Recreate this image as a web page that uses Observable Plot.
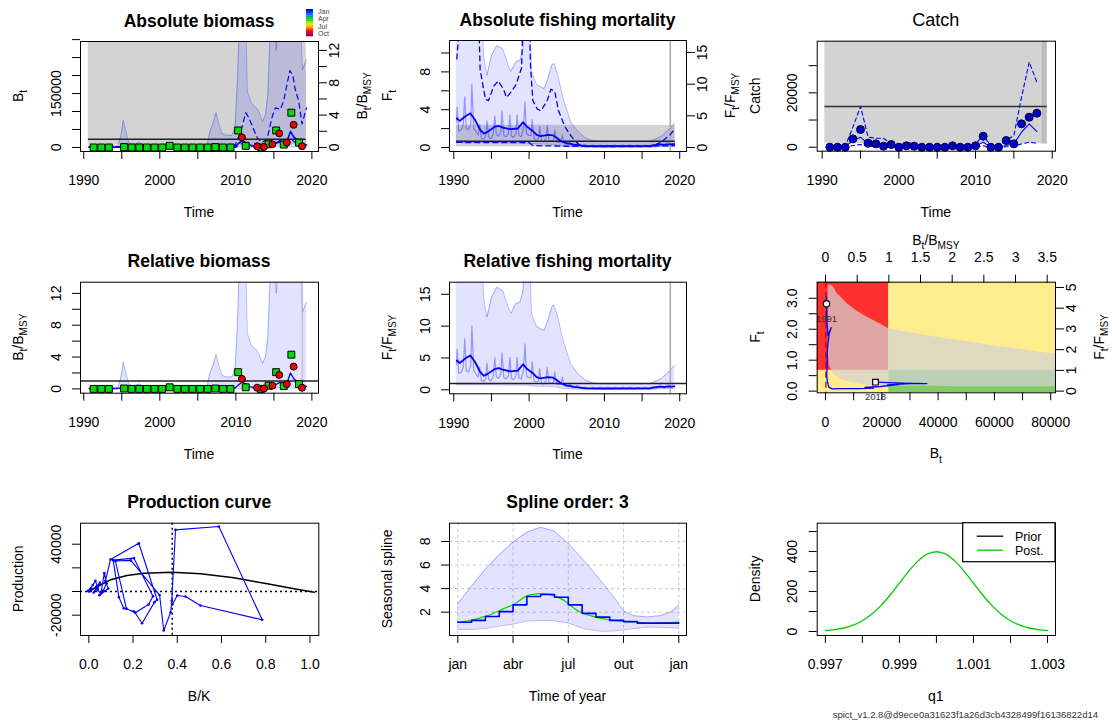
<!DOCTYPE html>
<html><head><meta charset="utf-8">
<script src="https://cdn.jsdelivr.net/npm/d3@7"></script>
<script src="https://cdn.jsdelivr.net/npm/@observablehq/plot@0.6"></script>
<style>
body{margin:0;background:#fff;}
#root{position:relative;width:1112px;height:722px;overflow:hidden;background:#fff;}
.cell{position:absolute;}
.cell svg{background:transparent !important;overflow:visible;}
</style></head><body><div id="root"></div>
<script>
const FONT = '"Liberation Sans", Arial, Helvetica, sans-serif';

// ---------------- reference values ----------------
const Bmsy = 22500;
const Fmsy = 0.67;
const MSY = 15000;
const BmsyOverK = 0.377;
const lastObsTime = [2018.75];
const bmsyBandTime = [1990.6, 2019.26];
const bmsyBandRel = [0.3, 30];
const fmsyBandTime = [1990.35, 2019.42];
const fmsyBandRel = [0.1, 3.5];
const msyBandTime = [1990.35, 2019.35];
const msyBandCatch = [1230, 60000];
const forecastStrip = [2018.7, 2019.35];

// ---------------- biomass (B/Bmsy) ----------------
const bEst = [[1990.7,0.04],[1992,0.05],[1994,0.04],[1995.2,0.12],[1996,0.05],[2000,0.04],[2001.2,0.08],[2002,0.04],[2007.3,0.1],[2008,0.05],[2009.8,0.06],[2010.3,0.45],[2010.8,0.85],[2011.3,0.6],[2011.8,0.3],[2012.5,0.15],[2013.3,0.1],[2014,0.25],[2014.7,0.5],[2015.3,0.55],[2015.8,0.85],[2016.3,0.6],[2016.8,0.95],[2017.2,2.0],[2017.6,1.3],[2018,1.0],[2018.5,0.8],[2019,0.4],[2019.3,0.3]];
// [time, lower, upper]
const bBand = [[1990.7,0,0.15],[1994.5,0,0.2],[1994.9,0,1.5],[1995.2,0.01,3.35],[1995.5,0,2.2],[1995.9,0,0.6],[1996.5,0,0.4],[1997.3,0,0.6],[1997.8,0,0.4],[1998.5,0,0.2],[2000.5,0,0.15],[2001.2,0.01,0.5],[2001.7,0,0.2],[2003,0,0.1],[2006.2,0,0.2],[2006.6,0,2.0],[2007.0,0.01,3.0],[2007.4,0.01,4.3],[2007.8,0.01,2.8],[2008.2,0,1.7],[2008.7,0,1.5],[2009.5,0,1.5],[2009.9,0.02,2.5],[2010.2,0.05,8.0],[2010.5,0.08,16],[2011.3,0.08,16],[2011.5,0.05,7.0],[2012.0,0.02,5.5],[2012.6,0.02,5.0],[2013.0,0.02,4.5],[2013.5,0.02,3.2],[2013.9,0.05,4.0],[2014.2,0.08,6.5],[2014.6,0.1,16],[2015.0,0.1,16],[2015.3,0.15,12],[2015.6,0.15,16],[2018.5,0.1,16],[2018.75,0.08,9.6],[2019.0,0.05,10.2],[2019.3,0.03,10.9]];
const bDashHi = [[1990.7,0.1],[2009.5,0.1],[2009.95,0.4],[2010.4,1.4],[2010.8,2.5],[2011.3,4.3],[2011.7,3.7],[2012.4,2.1],[2012.8,1.2],[2013.4,0.6],[2014.1,1.0],[2014.75,3.7],[2015.2,4.9],[2015.85,4.7],[2016.3,5.8],[2016.6,7.2],[2017.1,9.5],[2017.5,8.9],[2017.8,7.2],[2018.25,5.8],[2018.7,2.9],[2019.0,3.9],[2019.3,4.9]];
const bDashLo = [[1990.7,0.0],[2010.0,0.02],[2010.8,0.5],[2011.3,0.6],[2012,0.2],[2013.5,0.05],[2014.5,0.3],[2015.5,0.6],[2016.5,0.8],[2017.2,1.0],[2018,0.5],[2019,0.3],[2019.3,0.25]];
const index1 = [[1991.3,0],[1992.3,0],[1993.3,0],[1995.3,0.05],[1996.3,0],[1997.3,0],[1998.3,0],[1999.3,0],[2000.3,0],[2001.3,0.2],[2002.3,0],[2003.3,0],[2004.3,0],[2005.3,0],[2006.3,0],[2007.3,0.05],[2008.3,0],[2009.3,0],[2010.3,2.1],[2011.3,0.2],[2013.3,0],[2014.3,0.4],[2015.3,2.1],[2016.3,0.35],[2017.3,4.3],[2018.3,0.6]];
const index2 = [[2010.8,1.25],[2012.8,0.15],[2013.7,0.05],[2014.8,0.4],[2015.7,1.75],[2016.7,0.6],[2017.6,2.8],[2018.7,0.15]];

// ---------------- fishing mortality (F/Fmsy) ----------------
const fEst = [[1990.4,4.6],[1990.8,4.2],[1991.5,4.9],[1992.2,5.4],[1992.8,4.4],[1993.5,2.8],[1994,2.2],[1994.5,2.5],[1995.5,3.3],[1996,3.4],[1996.5,3.15],[1997.5,2.9],[1998.5,3.0],[1999.2,4.0],[1999.7,3.3],[2000.5,2.6],[2001,2.0],[2001.5,1.8],[2002.5,2.0],[2003.2,1.9],[2003.7,1.5],[2004.3,0.95],[2005,0.7],[2006,0.45],[2007.5,0.22],[2010,0.2],[2016,0.22],[2016.5,0.35],[2017,0.45],[2018,0.45],[2018.5,0.5],[2019.3,0.55]];
const fSeason = [[1990.35,4.0],[1990.45,6.4],[1990.65,2.6],[1990.95,2.7],[1991.25,3.5],[1991.45,8.0],[1991.65,3.0],[1991.95,2.8],[1992.25,3.8],[1992.4,10.0],[1992.65,3.0],[1992.95,2.5],[1993.25,2.0],[1993.45,3.6],[1993.65,1.5],[1993.95,1.3],[1994.25,1.8],[1994.4,4.2],[1994.65,1.6],[1994.95,1.4],[1995.25,2.2],[1995.45,5.0],[1995.65,2.0],[1995.95,1.8],[1996.25,2.5],[1996.4,5.8],[1996.65,1.9],[1996.95,1.7],[1997.25,2.2],[1997.45,5.1],[1997.65,1.8],[1997.95,1.6],[1998.25,2.2],[1998.4,5.1],[1998.65,1.9],[1998.95,1.7],[1999.25,3.0],[1999.45,7.2],[1999.65,2.2],[1999.95,1.9],[2000.25,1.9],[2000.4,4.4],[2000.65,1.4],[2000.95,1.2],[2001.25,1.4],[2001.4,3.3],[2001.65,1.0],[2001.95,0.9],[2002.25,1.5],[2002.4,3.5],[2002.65,1.1],[2002.95,1.0],[2003.25,1.2],[2003.4,2.8],[2003.65,0.9],[2003.95,0.8],[2004.25,0.9],[2004.4,2.0],[2004.65,0.6],[2004.95,0.5],[2005.25,0.5],[2005.4,1.05],[2005.65,0.35],[2005.95,0.3],[2006.4,0.7],[2006.95,0.2],[2007.4,0.45],[2007.95,0.13],[2008.4,0.38],[2008.95,0.12],[2009.4,0.37],[2009.95,0.12],[2010.4,0.37],[2010.95,0.12],[2011.4,0.37],[2011.95,0.12],[2012.4,0.37],[2012.95,0.12],[2013.4,0.37],[2013.95,0.12],[2014.4,0.37],[2014.95,0.12],[2015.4,0.38],[2015.95,0.13],[2016.4,0.5],[2016.95,0.2],[2017.4,0.8],[2017.95,0.25],[2018.4,0.85],[2018.95,0.3],[2019.3,0.6]];
// [time, lower, upper]
const fBand = [[1990.35,0.8,25],[1993.5,0.8,25],[1994.0,0.8,14],[1994.4,0.8,11.4],[1995.0,0.8,14.5],[1995.7,0.8,16.1],[1996.5,0.75,15.6],[1997.2,0.75,13],[1997.6,0.75,12],[1998.2,0.75,13.5],[1998.8,0.75,13.8],[1999.2,0.75,15.6],[1999.5,0.75,25],[2000.0,0.7,25],[2000.3,0.65,12],[2001,0.6,9.9],[2002,0.55,9.3],[2002.5,0.55,10.9],[2003,0.5,13],[2003.3,0.5,13.3],[2003.8,0.4,11.4],[2004.5,0.25,7.8],[2005.5,0.15,4.1],[2006.5,0.1,2.5],[2007.5,0.08,1.5],[2008.5,0.08,1.05],[2010,0.08,0.95],[2016,0.08,0.95],[2016.5,0.1,1.2],[2017.5,0.15,1.7],[2018.5,0.2,2.8],[2019.3,0.25,3.8]];
const fDashHi = [[1990.4,14],[1990.6,17],[1991,25],[1993.2,25],[1993.5,12.3],[1994.2,7.6],[1994.6,7.4],[1995.3,9.7],[1995.9,10.5],[1996.6,9.2],[1997.0,7.9],[1997.7,8.9],[1998.3,10],[1999.0,12.6],[1999.3,25],[1999.9,25],[2000.2,12.6],[2000.5,7.4],[2001.1,6.05],[2001.6,5.8],[2002.4,7.4],[2002.9,9.2],[2003.4,8.9],[2003.9,5.8],[2004.8,3.2],[2005.7,1.6],[2006.6,0.5],[2007.5,0.15],[2016.2,0.15],[2017.5,0.8],[2018.8,2.1],[2019.3,2.9]];
const fDashLo = [[1990.4,0.8],[2000,0.75],[2000.5,0.3],[2005,0.2],[2019.3,0.25]];

// ---------------- catch ----------------
const catchYears = [1991,1992,1993,1994,1995,1996,1997,1998,1999,2000,2001,2002,2003,2004,2005,2006,2007,2008,2009,2010,2011,2012,2013,2014,2015,2016,2017,2018];
const catchObs = [0,0,0,3070,6500,1470,1230,370,980,0,490,370,0,0,0,0,490,0,0,490,4050,0,0,2450,1230,8590,11040,12500];
const catchEst = [0,0,100,2450,3680,1230,1000,600,500,200,400,400,100,50,50,100,300,150,100,400,1840,100,100,610,1230,5520,8590,5770];
const catchHi = [50,100,300,7360,14970,3680,3310,3300,1200,600,1840,1200,500,300,300,400,900,500,400,1230,4300,600,300,2450,4300,18400,31300,23900];
const catchLo = [0,0,20,610,980,300,250,150,120,50,100,100,20,10,10,20,80,30,20,100,500,20,20,150,300,1230,1840,1470];

// ---------------- Kobe plot ----------------
const kobeB = [355,300,420,380,500,900,2000,1300,700,600,500,450,600,1180,2370,5300,11200,17150,14000,19500,26600,22000,30000,36000,27000,17750];
const kobeF = [2.82,3.05,2.6,2.9,2.2,1.8,2.05,1.85,1.4,1.0,0.7,0.5,0.34,0.13,0.075,0.08,0.08,0.1,0.12,0.15,0.22,0.2,0.24,0.24,0.26,0.29];
const kobeYears = ["1991","2018"];
// [B, F lower, F upper] of the grey region
const kobeGrey = [[950,1.3,3.38],[1300,0.85,3.42],[2000,0.7,3.42],[2960,0.55,3.35],[4140,0.47,3.15],[5330,0.4,3.05],[7690,0.32,2.82],[11240,0.24,2.58],[14790,0.2,2.39],[19520,0.17,2.17],[22480,0.16,2.01],[28990,0.16,1.90],[40820,0.16,1.72],[45000,0.14,1.67],[52650,0.14,1.56],[64480,0.14,1.40],[76310,0.14,1.26],[82000,0.14,1.20]];
const blimB = [150];

// ---------------- production curve ----------------
const prodCurve = [[0,0],[0.038,4225],[0.098,9860],[0.173,13520],[0.249,15490],[0.377,16340],[0.505,14930],[0.656,11550],[0.807,6480],[0.928,2250],[1.0,0],[1.02,-600]];
const prodPath = [[0.0,0],[0.012,2500],[-0.004,600],[0.018,5500],[0.03,9000],[0.04,3500],[0.022,-800],[0.035,4200],[0.05,7500],[0.04,1200],[0.055,-1500],[0.07,15500],[0.08,7000],[0.066,900],[0.048,-3200],[0.088,2500],[0.075,9000],[0.098,27000],[0.226,40800],[0.309,-7000],[0.297,-9000],[0.241,-26800],[0.205,-16900],[0.158,-14100],[0.136,-4800],[0.110,26500],[0.204,28200],[0.29,-4000],[0.27,-11000],[0.21,-18000],[0.17,-14500],[0.12,25800],[0.19,26300],[0.32,-3000],[0.339,-33000],[0.37,-17500],[0.375,-8000],[0.392,52100],[0.588,54900],[0.784,-23900],[0.505,-11800],[0.437,-4200],[0.400,-3400],[0.378,-11000]];

// ---------------- seasonal spline ----------------
const splineStepX = [0,0.0625,0.125,0.1875,0.25,0.3125,0.375,0.4375,0.5,0.5625,0.625,0.6875,0.75,0.8125,0.875,0.9375,1];
const splineStepY = [1.15,1.3,1.63,2.05,2.62,3.33,3.5,3.27,2.62,1.9,1.58,1.3,1.2,1.07,1.07,1.07,1.07];
const splineSmooth = [[0,1.15],[0.057,1.3],[0.133,1.7],[0.208,2.3],[0.253,2.65],[0.314,3.4],[0.359,3.55],[0.419,3.5],[0.48,3.0],[0.54,2.15],[0.6,1.7],[0.661,1.43],[0.736,1.24],[0.811,1.15],[0.887,1.07],[1,1.15]];
const splineBand = [[0,0.53,2.7],[0.057,0.53,4.1],[0.118,0.6,5.5],[0.178,0.8,6.7],[0.253,1.0,8.0],[0.314,1.25,8.8],[0.374,1.3,9.2],[0.434,1.28,8.9],[0.502,1.07,7.8],[0.570,0.6,6.4],[0.646,0.38,4.7],[0.706,0.4,3.3],[0.751,0.5,2.1],[0.796,0.6,1.7],[0.857,0.73,1.6],[0.917,0.72,1.7],[0.962,0.68,2.0],[1,0.64,2.6]];
const monthTicks = [0,0.25,0.5,0.75,1];
const monthLabels = ["jan","abr","jul","out","jan"];

// ---------------- q1 density ----------------
const q1X = [0.997,0.99725,0.9975,0.99775,0.998,0.99825,0.9985,0.99875,0.999,0.99925,0.9995,0.99975,1.0,1.00025,1.0005,1.00075,1.001,1.00125,1.0015,1.00175,1.002,1.00225,1.0025,1.00275,1.003];
const q1Post = [4.4,9.1,17.5,31.7,54,86.3,129.5,182.6,242,301,352,386.6,398.9,386.6,352,301,242,182.6,129.5,86.3,54,31.7,17.5,9.1,4.4];

const seasonColors = ["#0000ff","#0030ff","#0070ff","#00a0a0","#00cc30","#30e000","#a0e800","#f0e000","#ffb000","#ff6000","#ff1000","#d00030","#900070"];
const seasonLabels = ["Jan","Apr","Jul","Oct"];

// ---------------- layout helpers ----------------
const root = document.getElementById("root");
const yearTicks = [1990,1995,2000,2005,2010,2015,2020];
const yearLabels = ["1990","","2000","","2010","","2020"];

function fmap(ticks, labels){ const m = new Map(ticks.map((t,i)=>[t,labels[i]])); return d => (m.has(d) ? m.get(d) : ""); }
const axB = (t,l) => Plot.axisX({anchor:"bottom", ticks:t, tickSize:8, tickPadding:16, fontSize:14, tickFormat:fmap(t,l), label:null});
const axT = (t,l) => Plot.axisX({anchor:"top", ticks:t, tickSize:8, tickPadding:12, fontSize:14, tickFormat:fmap(t,l), label:null});
const axL = (t,l) => Plot.axisY({anchor:"left", ticks:t, tickSize:8, tickPadding:12, tickRotate:-90, fontSize:14, tickFormat:fmap(t,l), label:null});
const axR = (t,l) => Plot.axisY({anchor:"right", ticks:t, tickSize:8, tickPadding:12, tickRotate:-90, fontSize:14, tickFormat:fmap(t,l), label:null});

function panel(cell, xd, yd, marks){
  const svg = Plot.plot({
    width: cell.w, height: cell.h,
    marginLeft: cell.ml, marginRight: cell.mr, marginTop: cell.mt, marginBottom: cell.mb,
    x: {domain: xd}, y: {domain: yd},
    style: {fontFamily: FONT, fontSize: "14px", background: "transparent", color: "black", overflow: "visible"},
    marks
  });
  const div = document.createElement("div");
  div.className = "cell";
  div.style.left = cell.x + "px"; div.style.top = cell.y + "px";
  div.style.width = cell.w + "px"; div.style.height = cell.h + "px";
  div.appendChild(svg);
  root.appendChild(div);
  return svg;
}
function txt(svg, x, y, parts, o = {}){
  const {rotate = 0, size = 14, weight = "normal", anchor = "middle", fill = "black"} = o;
  const t = d3.select(svg).append("text")
    .attr("transform", `translate(${x},${y}) rotate(${rotate})`)
    .attr("text-anchor", anchor).attr("font-size", size).attr("font-weight", weight)
    .attr("fill", fill).attr("font-family", FONT);
  let sub = false;
  for (const p of parts){
    const isSub = Array.isArray(p);
    const ts = t.append("tspan").text(isSub ? p[0] : p);
    if (isSub){ ts.attr("font-size", size*0.72); if(!sub) ts.attr("dy", size*0.3); sub = true; }
    else { if (sub) ts.attr("dy", -size*0.3); sub = false; }
  }
  return t;
}
function decorate(svg, c, o){
  const fx0 = c.ml, fx1 = c.w - c.mr, fy0 = c.mt, fy1 = c.h - c.mb;
  const cx = (fx0+fx1)/2, cy = (fy0+fy1)/2;
  if (o.title) txt(svg, cx, fy0 - 14.5, [o.title], {size: o.titleSize || 17.5, weight: o.titleWeight || "bold"});
  if (o.xlab) txt(svg, cx, fy1 + 66, o.xlab);
  if (o.ylab) txt(svg, fx0 - 57, cy, o.ylab, {rotate:-90});
  if (o.rlab) txt(svg, fx1 + 49, cy, o.rlab, {rotate:-90});
  if (o.tlab) txt(svg, cx, fy0 - 36.7, o.tlab);
}
const X0 = d => d[0], Y1 = d => d[1], Y2 = d => d[2];
const BT = ["B",["t"]], FT = ["F",["t"]];
const BREL = ["B",["t"],"/","B",["MSY"]], FREL = ["F",["t"],"/","F",["MSY"]];
const bandFill = {fill:"blue", fillOpacity:0.11, clip:true};
const bandLine = {stroke:"blue", strokeOpacity:0.28, strokeWidth:1, clip:true};

// ---------------- Panel 1: Absolute biomass ----------------
{
  const c = {x:0,y:0,w:370,h:240,ml:80,mr:52,mt:41,mb:89};
  const bT = [0,50000,100000,150000,200000,250000,300000];
  const bPos = bT.map(b => b/Bmsy);
  const svg = panel(c, [1989.57, 2020.87], [-0.5, 13.1], [
    Plot.rect([bmsyBandTime], {x1: d=>d[0], x2: d=>d[1], y1: () => bmsyBandRel[0], y2: () => bmsyBandRel[1], fill:"#d3d3d3", clip:true}),
    Plot.areaY(bBand, {x:X0, y1:Y1, y2:Y2, ...bandFill}),
    Plot.line(bBand, {x:X0, y:Y2, ...bandLine}),
    Plot.line(bBand, {x:X0, y:Y1, ...bandLine}),
    Plot.line(bDashHi, {x:X0, y:Y1, stroke:"blue", strokeWidth:1.2, strokeDasharray:"5,4", clip:true}),
    Plot.line(bDashLo, {x:X0, y:Y1, stroke:"blue", strokeWidth:1.2, strokeDasharray:"5,4", clip:true}),
    Plot.ruleY([1], {x1: () => bmsyBandTime[0], x2: () => bmsyBandTime[1], stroke:"#222", strokeWidth:1.5}),
    Plot.line(bEst, {x:X0, y:Y1, stroke:"blue", strokeWidth:1.6, clip:true}),
    Plot.dot(index1, {x:X0, y:Y1, symbol:"square", r:3.9, fill:"#00dd00", stroke:"black", strokeWidth:1}),
    Plot.dot(index2, {x:X0, y:Y1, r:3.5, fill:"#ee0000", stroke:"black", strokeWidth:1}),
    Plot.frame({stroke:"black"}),
    axB(yearTicks, yearLabels),
    axL(bPos, ["0","","","150000","","",""]),
    axR([0,2,4,6,8,10,12], ["0","","4","","8","","12"])
  ]);
  decorate(svg, c, {title:"Absolute biomass", xlab:["Time"], ylab:BT, rlab:BREL});
  // season colour key
  const g = d3.select(svg).append("g");
  seasonColors.forEach((col,i) => g.append("rect").attr("x",306).attr("y",9 + i*27/seasonColors.length).attr("width",7).attr("height",27/seasonColors.length+0.3).attr("fill",col));
  seasonLabels.forEach((s,i) => txt(svg, 318, 14 + i*7.3, [s], {size:7, anchor:"start", fill:"#444"}));
}

// ---------------- Panel 2: Absolute fishing mortality ----------------
{
  const c = {x:370,y:0,w:370,h:240,ml:79,mr:54,mt:40,mb:89};
  const fT = [0,2,4,6,8,10];
  const svg = panel(c, [1989.43, 2020.9], [-0.63, 16.9], [
    Plot.rect([fmsyBandTime], {x1: d=>d[0], x2: d=>d[1], y1: () => fmsyBandRel[0], y2: () => fmsyBandRel[1], fill:"#d3d3d3", clip:true}),
    Plot.areaY(fBand, {x:X0, y1:Y1, y2:Y2, ...bandFill}),
    Plot.line(fBand, {x:X0, y:Y2, ...bandLine}),
    Plot.line(fBand, {x:X0, y:Y1, ...bandLine}),
    Plot.ruleX(lastObsTime, {stroke:"#aaaaaa", strokeWidth:1.5}),
    Plot.line(fSeason, {x:X0, y:Y1, stroke:"blue", strokeOpacity:0.35, strokeWidth:1.2, clip:true}),
    Plot.line(fDashHi, {x:X0, y:Y1, stroke:"blue", strokeWidth:1.3, strokeDasharray:"5,4", clip:true}),
    Plot.line(fDashLo, {x:X0, y:Y1, stroke:"blue", strokeWidth:1.3, strokeDasharray:"5,4", clip:true}),
    Plot.ruleY([1], {x1: () => fmsyBandTime[0], x2: () => fmsyBandTime[1], stroke:"#222", strokeWidth:1.5}),
    Plot.line(fEst, {x:X0, y:Y1, stroke:"blue", strokeWidth:1.8, clip:true}),
    Plot.frame({stroke:"black"}),
    axB(yearTicks, yearLabels),
    axL(fT.map(f => f/Fmsy), ["0","","4","","8",""]),
    axR([0,5,10,15], ["0","5","10","15"])
  ]);
  decorate(svg, c, {title:"Absolute fishing mortality", xlab:["Time"], ylab:FT, rlab:FREL});
}

// ---------------- Panel 3: Catch ----------------
{
  const c = {x:740,y:0,w:372,h:240,ml:76.7,mr:57,mt:40.7,mb:89.3};
  const rows = catchYears.map((y,i) => ({y, obs:catchObs[i], est:catchEst[i], hi:catchHi[i], lo:catchLo[i]}));
  const svg = panel(c, [1989.35, 2020.43], [-1470, 39000], [
    Plot.rect([msyBandTime], {x1: d=>d[0], x2: d=>d[1], y1: () => msyBandCatch[0], y2: () => msyBandCatch[1], fill:"#d3d3d3", clip:true}),
    Plot.rect([forecastStrip], {x1: d=>d[0], x2: d=>d[1], y1: () => msyBandCatch[0], y2: () => msyBandCatch[1], fill:"#bdbdbd", clip:true}),
    Plot.ruleY([MSY], {x1: () => msyBandTime[0], x2: () => msyBandTime[1], stroke:"#333", strokeWidth:1.6}),
    Plot.line(rows, {x:"y", y:"hi", stroke:"blue", strokeWidth:1.1, strokeDasharray:"4,3", clip:true}),
    Plot.line(rows, {x:"y", y:"lo", stroke:"blue", strokeWidth:1.1, strokeDasharray:"4,3", clip:true}),
    Plot.line(rows, {x:"y", y:"est", stroke:"blue", strokeWidth:1.1, clip:true}),
    Plot.dot(rows, {x:"y", y:"obs", r:4, fill:"#0000cc", stroke:"#000033", strokeWidth:1}),
    Plot.frame({stroke:"black"}),
    axB(yearTicks, yearLabels),
    axL([0,10000,20000,30000], ["0","","20000",""])
  ]);
  decorate(svg, c, {title:"Catch", titleWeight:"normal", titleSize:18, xlab:["Time"], ylab:["Catch"]});
}

// ---------------- Panel 4: Relative biomass ----------------
{
  const c = {x:0,y:240,w:370,h:240,ml:80,mr:52,mt:41.7,mb:87.3};
  const svg = panel(c, [1989.57, 2020.87], [-0.54, 13.4], [
    Plot.areaY(bBand, {x:X0, y1:Y1, y2:Y2, ...bandFill}),
    Plot.line(bBand, {x:X0, y:Y2, ...bandLine}),
    Plot.line(bBand, {x:X0, y:Y1, ...bandLine}),
    Plot.ruleX(lastObsTime, {stroke:"#aaaaaa", strokeOpacity:0.6, strokeWidth:1.5}),
    Plot.ruleY([1], {stroke:"#222", strokeWidth:1.5}),
    Plot.line(bEst, {x:X0, y:Y1, stroke:"blue", strokeWidth:1.3, clip:true}),
    Plot.dot(index1, {x:X0, y:Y1, symbol:"square", r:3.9, fill:"#00dd00", stroke:"black", strokeWidth:1}),
    Plot.dot(index2, {x:X0, y:Y1, r:3.5, fill:"#ee0000", stroke:"black", strokeWidth:1}),
    Plot.frame({stroke:"black"}),
    axB(yearTicks, yearLabels),
    axL([0,2,4,6,8,10,12], ["0","","4","","8","","12"])
  ]);
  decorate(svg, c, {title:"Relative biomass", xlab:["Time"], ylab:BREL});
}

// ---------------- Panel 5: Relative fishing mortality ----------------
{
  const c = {x:370,y:240,w:370,h:240,ml:79,mr:54,mt:41.7,mb:86.7};
  const svg = panel(c, [1989.43, 2020.9], [-0.63, 16.9], [
    Plot.areaY(fBand, {x:X0, y1:Y1, y2:Y2, ...bandFill}),
    Plot.line(fBand, {x:X0, y:Y2, ...bandLine}),
    Plot.line(fBand, {x:X0, y:Y1, ...bandLine}),
    Plot.ruleX(lastObsTime, {stroke:"#aaaaaa", strokeWidth:1.5}),
    Plot.line(fSeason, {x:X0, y:Y1, stroke:"blue", strokeOpacity:0.35, strokeWidth:1.2, clip:true}),
    Plot.ruleY([1], {stroke:"#222", strokeWidth:1.5}),
    Plot.line(fEst, {x:X0, y:Y1, stroke:"blue", strokeWidth:1.8, clip:true}),
    Plot.frame({stroke:"black"}),
    axB(yearTicks, yearLabels),
    axL([0,5,10,15], ["0","5","10","15"])
  ]);
  decorate(svg, c, {title:"Relative fishing mortality", xlab:["Time"], ylab:FREL});
}

// ---------------- Panel 6: Kobe plot ----------------
{
  const c = {x:740,y:240,w:372,h:240,ml:76.7,mr:57,mt:41.7,mb:87.7};
  const traj = kobeB.map((b,i) => ({b, f:kobeF[i]}));
  const ends = [{b:kobeB[0], f:kobeF[0], lab:kobeYears[0], sym:"circle"}, {b:kobeB[kobeB.length-1], f:kobeF[kobeF.length-1], lab:kobeYears[1], sym:"square"}];
  const xd = [-2950, 81700], yd = [-0.054, 3.52];
  const relB = [0,0.5,1,1.5,2,2.5,3,3.5];
  const relF = [0,1,2,3,4,5];
  const svg = panel(c, xd, yd, [
    Plot.rect([0], {x1: () => xd[0] - 5000, x2: () => Bmsy, y1: () => Fmsy, y2: () => 10, fill:"#ff3030", clip:true}),
    Plot.rect([0], {x1: () => Bmsy, x2: () => xd[1] + 5000, y1: () => Fmsy, y2: () => 10, fill:"#ffec8c", clip:true}),
    Plot.rect([0], {x1: () => xd[0] - 5000, x2: () => Bmsy, y1: () => -1, y2: () => Fmsy, fill:"#ffec8c", clip:true}),
    Plot.rect([0], {x1: () => Bmsy, x2: () => xd[1] + 5000, y1: () => -1, y2: () => Fmsy, fill:"#80cc66", clip:true}),
    Plot.areaY(kobeGrey, {x:X0, y1:Y1, y2:Y2, fill:"#d3d3d3", fillOpacity:0.72, clip:true}),
    Plot.ruleX(blimB, {stroke:"#aa1111", strokeWidth:1.3, strokeDasharray:"6,4"}),
    Plot.line(traj, {x:"b", y:"f", stroke:"blue", strokeWidth:1.3, clip:true}),
    Plot.dot(ends, {x:"b", y:"f", symbol:"sym", r:3.2, fill:"white", stroke:"black", strokeWidth:1.2}),
    Plot.text(ends, {x:"b", y:"f", text:"lab", dy:15, fontSize:9.5, fill:"#333"}),
    Plot.frame({stroke:"black"}),
    axB([0,10000,20000,30000,40000,50000,60000,70000,80000], ["0","","20000","","40000","","60000","","80000"]),
    axT(relB.map(r => r*Bmsy), relB.map(String)),
    axL([0,0.5,1,1.5,2,2.5,3], ["0.0","","1.0","","2.0","","3.0"]),
    axR(relF.map(r => r*Fmsy), relF.map(String))
  ]);
  decorate(svg, c, {xlab:BT, ylab:FT, rlab:FREL, tlab:BREL});
}

// ---------------- Panel 7: Production curve ----------------
{
  const c = {x:0,y:480,w:370,h:242,ml:80,mr:51.7,mt:42.7,mb:87};
  const svg = panel(c, [-0.0376, 1.04], [-37200, 57750], [
    Plot.ruleY([0], {stroke:"black", strokeWidth:1.5, strokeDasharray:"2,3"}),
    Plot.ruleX([BmsyOverK], {stroke:"black", strokeWidth:1.5, strokeDasharray:"2,3"}),
    Plot.line(prodCurve, {x:X0, y:Y1, stroke:"black", strokeWidth:1.5, clip:true}),
    Plot.line(prodPath, {x:X0, y:Y1, stroke:"blue", strokeWidth:1.1, clip:true}),
    Plot.dot(prodPath, {x:X0, y:Y1, r:1.3, fill:"blue", clip:true}),
    Plot.frame({stroke:"black"}),
    axB([0,0.2,0.4,0.6,0.8,1.0], ["0.0","0.2","0.4","0.6","0.8","1.0"]),
    axL([-20000,0,20000,40000], ["-20000","","","40000"])
  ]);
  decorate(svg, c, {title:"Production curve", xlab:["B/K"], ylab:["Production"]});
}

// ---------------- Panel 8: Spline ----------------
{
  const c = {x:370,y:480,w:370,h:242,ml:79,mr:54,mt:42.7,mb:87};
  const steps = splineStepX.map((x,i) => ({x, y:splineStepY[i]}));
  const svg = panel(c, [-0.0376, 1.035], [0.02, 9.55], [
    Plot.ruleX(monthTicks, {stroke:"#c8c8c8", strokeDasharray:"3,3"}),
    Plot.ruleY([2,4,6,8], {stroke:"#c8c8c8", strokeDasharray:"3,3"}),
    Plot.areaY(splineBand, {x:X0, y1:Y1, y2:Y2, ...bandFill}),
    Plot.line(splineBand, {x:X0, y:Y2, ...bandLine}),
    Plot.line(splineBand, {x:X0, y:Y1, ...bandLine}),
    Plot.line(splineSmooth, {x:X0, y:Y1, stroke:"#00dd00", strokeWidth:1.3, curve:"catmull-rom"}),
    Plot.line(steps, {x:"x", y:"y", curve:"step-after", stroke:"blue", strokeWidth:1.6}),
    Plot.frame({stroke:"black"}),
    axB(monthTicks, monthLabels),
    axL([2,4,6,8], ["2","4","6","8"])
  ]);
  decorate(svg, c, {title:"Spline order: 3", xlab:["Time of year"], ylab:["Seasonal spline"]});
}

// ---------------- Panel 9: q1 density ----------------
{
  const c = {x:740,y:480,w:372,h:242,ml:76.7,mr:57,mt:42.7,mb:87};
  const rows = q1X.map((x,i) => ({x, y:q1Post[i]}));
  const svg = panel(c, [0.99678, 1.003216], [-20, 541.7], [
    Plot.line(rows, {x:"x", y:"y", stroke:"#00cc00", strokeWidth:1.3, curve:"catmull-rom"}),
    Plot.frame({stroke:"black"}),
    axB([0.997,0.998,0.999,1.0,1.001,1.002,1.003], ["0.997","","0.999","","1.001","","1.003"]),
    axL([0,100,200,300,400,500], ["0","","200","","400",""])
  ]);
  decorate(svg, c, {xlab:["q1"], ylab:["Density"]});
  // legend box
  const fx1 = c.w - c.mr, fy0 = c.mt;
  const g = d3.select(svg).append("g");
  g.append("rect").attr("x", fx1 - 92.3).attr("y", fy0).attr("width", 92.3).attr("height", 39).attr("fill","white").attr("stroke","black").attr("stroke-width",1.2);
  g.append("line").attr("x1", fx1 - 78.3).attr("x2", fx1 - 51.7).attr("y1", fy0 + 13.5).attr("y2", fy0 + 13.5).attr("stroke","black").attr("stroke-width",1.3);
  g.append("line").attr("x1", fx1 - 78.3).attr("x2", fx1 - 51.7).attr("y1", fy0 + 27.5).attr("y2", fy0 + 27.5).attr("stroke","#00cc00").attr("stroke-width",1.3);
  txt(svg, fx1 - 40, fy0 + 17.8, ["Prior"], {anchor:"start", size:12.5});
  txt(svg, fx1 - 40, fy0 + 31.8, ["Post."], {anchor:"start", size:12.5});
  txt(svg, 358, 238, ["spict_v1.2.8@d9ece0a31623f1a26d3cb4328499f16136822d14"], {anchor:"end", size:9.5, fill:"#333"});
}
</script></body></html>
